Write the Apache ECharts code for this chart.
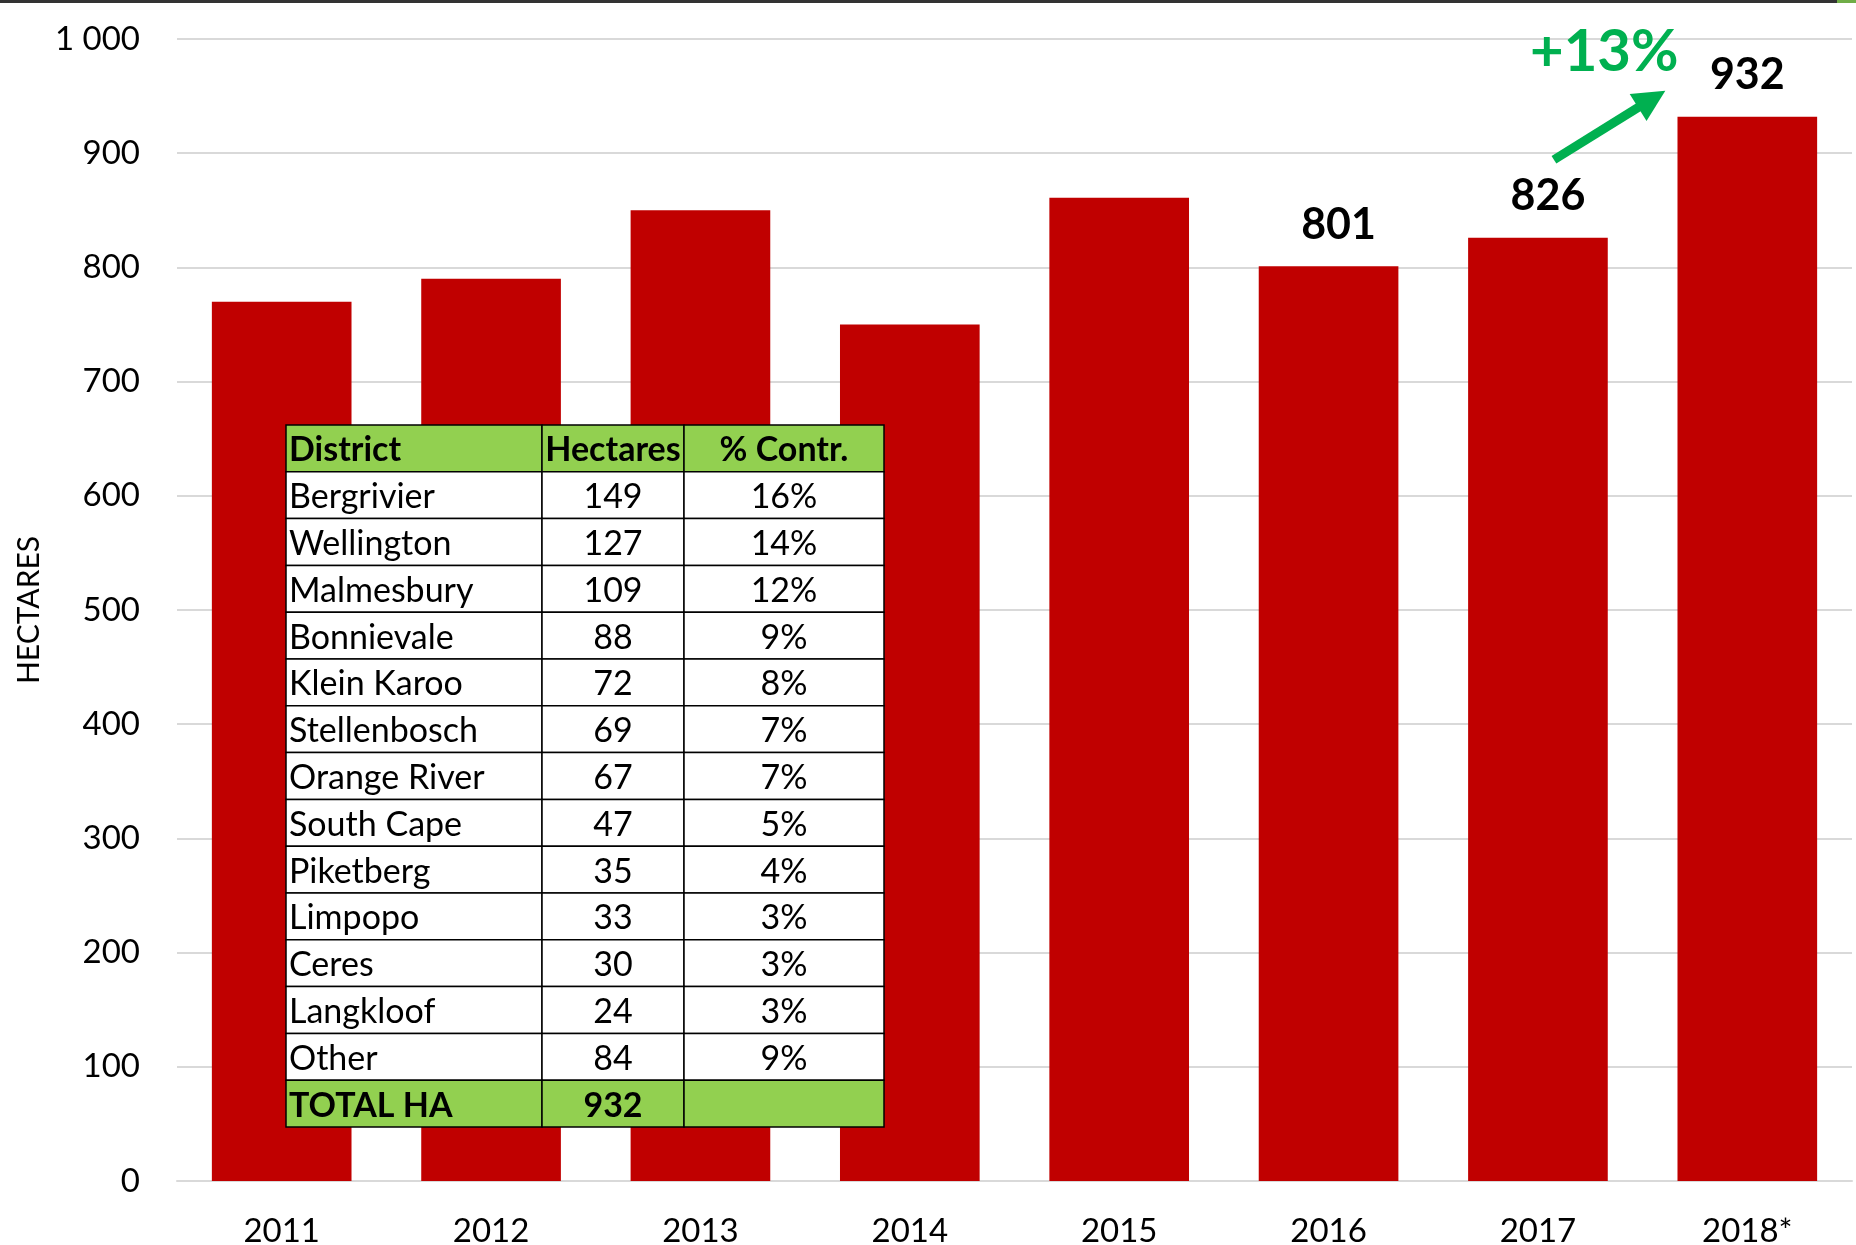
<!DOCTYPE html>
<html>
<head>
<meta charset="utf-8">
<script src="https://cdn.jsdelivr.net/npm/echarts@6/dist/echarts.min.js"></script>
<style>
  html, body { margin: 0; padding: 0; background: #fff; }
  #chart { width: 1856px; height: 1245px; }
</style>
</head>
<body>
<div id="chart"></div>
<script>
// bar chart data
const years = ['2011', '2012', '2013', '2014', '2015', '2016', '2017', '2018*']
const hectares = [770, 790, 850, 750, 861, 801, 826, 932]
const labelledYears = ['2016', '2017', '2018*']
const growthText = '+13%'

// inset table data
const tableHeader = ['District', 'Hectares', '% Contr.']
const districts = ['Bergrivier', 'Wellington', 'Malmesbury', 'Bonnievale', 'Klein Karoo', 'Stellenbosch',
  'Orange River', 'South Cape', 'Piketberg', 'Limpopo', 'Ceres', 'Langkloof', 'Other']
const districtHa = [149, 127, 109, 88, 72, 69, 67, 47, 35, 33, 30, 24, 84]
const districtPct = ['16%', '14%', '12%', '9%', '8%', '7%', '7%', '5%', '4%', '3%', '3%', '3%', '9%']
const totalRow = ['TOTAL HA', '932', '']

const FONT = 'Lato, "Noto Sans", sans-serif'
const RED = '#C00000'
const GREEN = '#92D050'
const ARROW_GREEN = '#00B050'

const chart = echarts.init(document.getElementById('chart'), null, { renderer: 'canvas' })

// build table graphic elements
function buildTable() {
  const x0 = 286, y0 = 425, rowH = 46.8
  const colW = [256, 142, 200]
  const rows = [tableHeader]
  for (let i = 0; i < districts.length; i++) {
    rows.push([districts[i], String(districtHa[i]), districtPct[i]])
  }
  rows.push(totalRow)
  const els = []
  rows.forEach((row, r) => {
    const green = r === 0 || r === rows.length - 1
    let cx = x0
    row.forEach((cell, c) => {
      els.push({
        type: 'rect', z: 100,
        shape: { x: cx, y: y0 + r * rowH, width: colW[c], height: rowH },
        style: { fill: green ? GREEN : '#fff', stroke: '#000', lineWidth: 1.5 }
      })
      const centered = c > 0
      els.push({
        type: 'text', z: 101,
        x: centered ? cx + colW[c] / 2 : cx + 3,
        y: y0 + r * rowH + rowH / 2 + 2,
        style: {
          text: cell,
          fill: '#000',
          fontFamily: FONT,
          fontSize: 34,
          fontWeight: green ? 'bold' : 'normal',
          align: centered ? 'center' : 'left',
          verticalAlign: 'middle'
        }
      })
      cx += colW[c]
    })
  })
  return els
}

const option = {
  animation: false,
  backgroundColor: '#fff',
  grid: { left: 177, right: 4, top: 39, bottom: 64, outerBoundsMode: 'none' },
  xAxis: {
    type: 'category',
    data: years,
    axisLine: { show: true, lineStyle: { color: '#D9D9D9', width: 2 } },
    axisTick: { show: false },
    axisLabel: { color: '#000', fontFamily: FONT, fontSize: 33, margin: 34 }
  },
  yAxis: {
    type: 'value',
    min: 0, max: 1000, interval: 100,
    name: 'HECTARES',
    nameLocation: 'middle',
    nameGap: 132,
    nameTextStyle: { color: '#000', fontFamily: FONT, fontSize: 30 },
    axisLine: { show: false },
    axisTick: { show: false },
    splitLine: { lineStyle: { color: '#D9D9D9', width: 2 } },
    axisLabel: {
      color: '#000', fontFamily: FONT, fontSize: 33, margin: 37,
      formatter: v => v >= 1000 ? String(v).replace(/(\d)(\d{3})$/, '$1 $2') : String(v)
    }
  },
  series: [{
    type: 'bar',
    barWidth: '66.7%',
    itemStyle: { color: RED },
    data: hectares.map((v, i) => ({
      value: v,
      label: {
        show: labelledYears.includes(years[i]),
        // Excel nudged the first two labels slightly to the right
        offset: i < years.length - 1 ? [10, 0] : [0, 0]
      }
    })),
    label: {
      position: 'top',
      distance: 20,
      color: '#000',
      fontFamily: FONT,
      fontSize: 43,
      fontWeight: 'bold'
    }
  }],
  graphic: [
    { type: 'rect', z: 100, shape: { x: 0, y: 0, width: 1856, height: 3 }, style: { fill: '#333' } },
    { type: 'rect', z: 101, shape: { x: 1837, y: 0, width: 19, height: 3 }, style: { fill: '#70AD47' } }
  ].concat(buildTable())
}

chart.setOption(option)

// growth annotation anchored on the 2017 and 2018 bars
const p17 = chart.convertToPixel({ seriesIndex: 0 }, [6, hectares[6]])
const p18 = chart.convertToPixel({ seriesIndex: 0 }, [7, hectares[7]])
const start = [p17[0] + 16, p17[1] - 78]
const tip = [p18[0] - 82, p18[1] - 26]
const dx = tip[0] - start[0], dy = tip[1] - start[1]
const len = Math.sqrt(dx * dx + dy * dy)
const ux = dx / len, uy = dy / len
const headL = 32, headW = 16
const base = [tip[0] - ux * headL, tip[1] - uy * headL]

chart.setOption({
  graphic: option.graphic.concat([
    {
      type: 'line', z: 110,
      shape: { x1: start[0], y1: start[1], x2: base[0] + ux * 4, y2: base[1] + uy * 4 },
      style: { stroke: ARROW_GREEN, lineWidth: 9 }
    },
    {
      type: 'polygon', z: 110,
      shape: {
        points: [
          tip,
          [base[0] - uy * headW, base[1] + ux * headW],
          [base[0] + uy * headW, base[1] - ux * headW]
        ]
      },
      style: { fill: ARROW_GREEN }
    },
    {
      type: 'text', z: 110,
      x: p18[0] - 143, y: p18[1] - 35,
      style: {
        text: growthText, fill: ARROW_GREEN, fontFamily: FONT, fontSize: 58, fontWeight: 'bold',
        align: 'center', verticalAlign: 'bottom'
      }
    }
  ])
})
</script>
</body>
</html>
